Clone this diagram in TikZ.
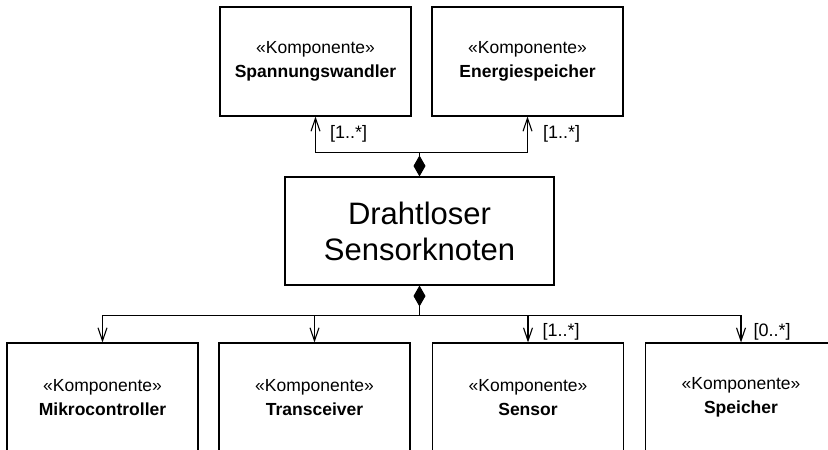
\documentclass[tikz,border=0pt]{standalone}
\usepackage{fontspec}
\setmainfont{Liberation Sans}
\usepackage{tikz}
\usetikzlibrary{positioning,arrows.meta}

\begin{document}
\begin{tikzpicture}[
            x = 1pt, y = -1pt,
            line width = 1.1pt,
            komp/.style = {draw, minimum width = 191pt, minimum height = 109pt, inner sep = 0pt,
                align = center, font = \fontsize{17.5}{24}\selectfont},
            knoten/.style = {draw, minimum width = 269pt, minimum height = 108pt, inner sep = 0pt,
                align = center, font = \fontsize{31}{36}\selectfont},
            mult/.style = {anchor = west, inner sep = 0pt, font = \fontsize{18}{20}\selectfont},
            teil/.style = {{Diamond[length = 21pt, width = 12pt]}-},
            navi/.style = {-{Straight Barb[length = 13pt, width = 9pt, line width = 1.1pt]}}]
            \useasboundingbox (0,0) rectangle (828,450);
            \clip (0,0) rectangle (828,450);
            \node[knoten] (sensorknoten) at (419.5,231) {Drahtloser\\Sensorknoten};
            \node[komp] (wandler) at (315.5,61.5) {«Komponente»\\\textbf{Spannungswandler}};
            \node[komp] (energie) at (527.5,61.5) {«Komponente»\\\textbf{Energiespeicher}};
            \node[komp] (mikro) at (102.5,397.5) {«Komponente»\\\textbf{Mikrocontroller}};
            \node[komp] (trans) at (314.5,397.5) {«Komponente»\\\textbf{Transceiver}};
            \node[komp] (sensor) at (528,397.5) {«Komponente»\\\textbf{Sensor}};
            \node[komp] (speicher) at (741,397.5) {«Komponente»\\\textbf{Speicher}};
            \draw[teil] (sensorknoten.north) -- ++(0,-24) coordinate (obengabel);
            \draw[navi] (obengabel) -| (wandler.south);
            \draw[navi] (obengabel) -| (energie.south);
            \draw[teil] (sensorknoten.south) -- ++(0,30) coordinate (untengabel);
            \foreach \ziel in {mikro, trans, sensor, speicher}
                \draw[navi] (untengabel) -| (\ziel.north);
            \node[mult] (mwandler) at ([shift = {(14,17)}]wandler.south) {[1..*]};
            \node[mult] (menergie) at ([shift = {(15,17)}]energie.south) {[1..*]};
            \node[mult] (msensor) at ([shift = {(14,-11)}]sensor.north) {[1..*]};
            \node[mult] (mspeicher) at ([shift = {(12,-11)}]speicher.north) {[0..*]};
        \end{tikzpicture}
\end{document}
